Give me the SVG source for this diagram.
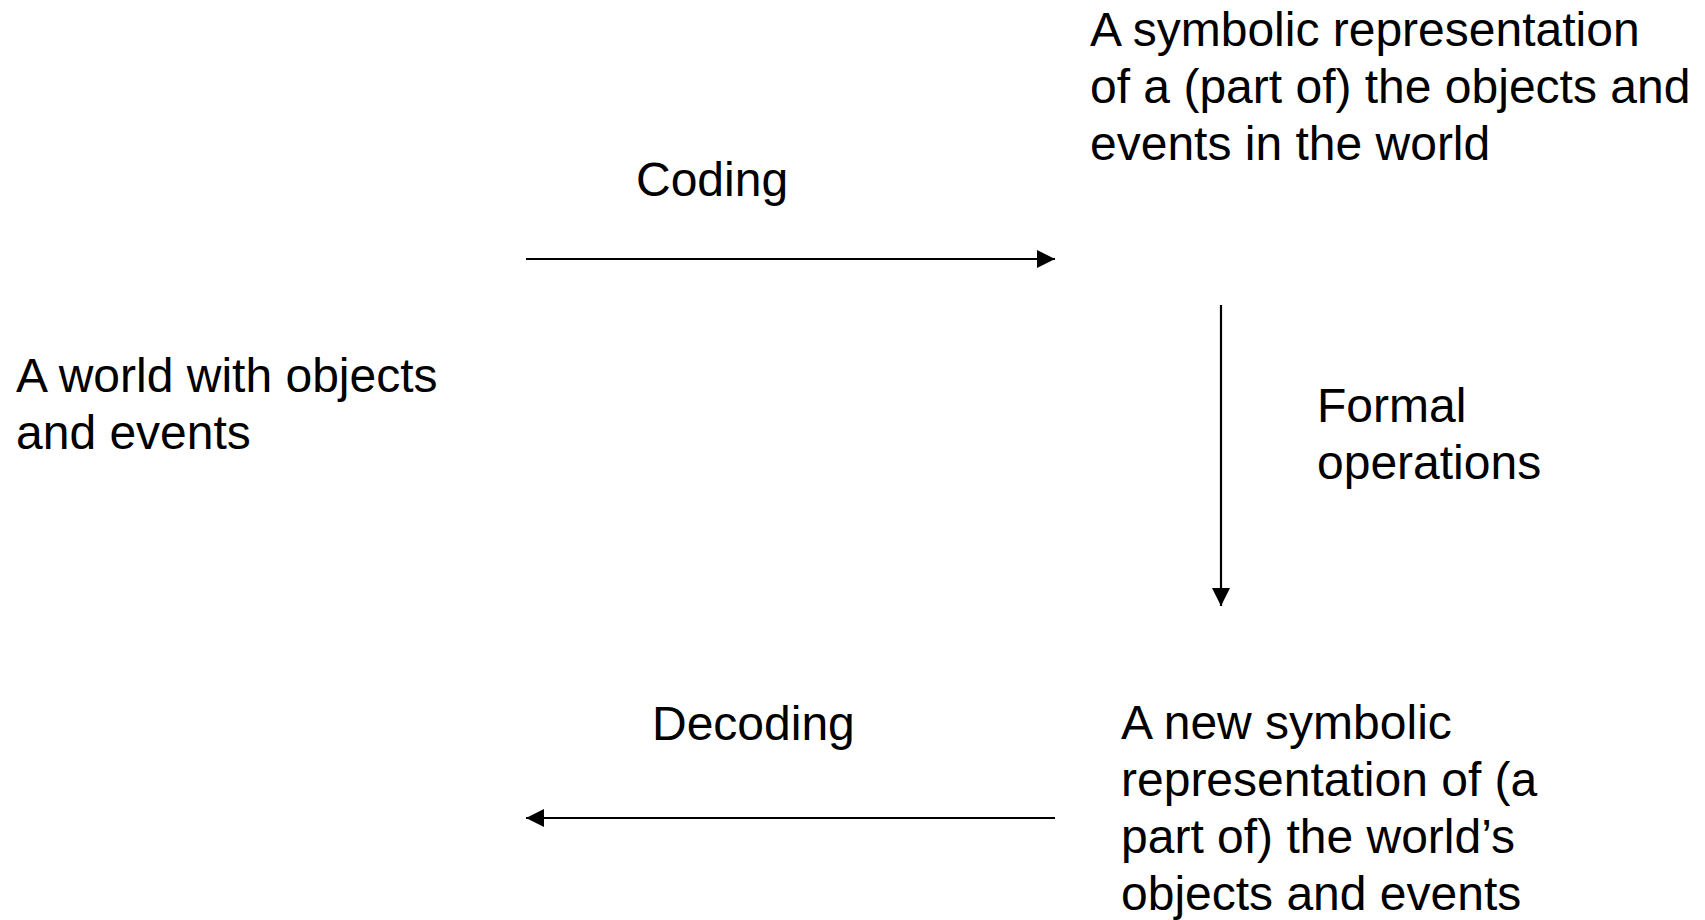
<svg xmlns="http://www.w3.org/2000/svg" width="1705" height="920" viewBox="0 0 1705 920">
  <style>
    text { font-family: "Liberation Sans", Arial, sans-serif; font-size: 48px; fill: #000; }
    .conn { stroke: #000; stroke-width: 2.2; fill: none; }
  </style>
  <defs>
    <marker id="arrow" viewBox="0 0 10 10" refX="10" refY="5" markerWidth="18" markerHeight="18" markerUnits="userSpaceOnUse" orient="auto">
      <path d="M0,0 L10,5 L0,10 z" fill="#000"/>
    </marker>
  </defs>
  <rect width="1705" height="920" fill="#fff"/>
  <g id="connectors">
    <line id="coding-arrow" class="conn" x1="526" y1="259" x2="1055" y2="259" marker-end="url(#arrow)"/>
    <line id="formal-arrow" class="conn" x1="1221" y1="305" x2="1221" y2="606" marker-end="url(#arrow)"/>
    <line id="decoding-arrow" class="conn" x1="1055" y1="818" x2="526" y2="818" marker-end="url(#arrow)"/>
  </g>
  <g id="world">
    <text x="16" y="392">A world with objects</text>
    <text x="16" y="449">and events</text>
  </g>
  <g id="symbolic">
    <text x="1090" y="46">A symbolic representation</text>
    <text x="1090" y="103">of a (part of) the objects and</text>
    <text x="1090" y="160">events in the world</text>
  </g>
  <g id="new-symbolic">
    <text x="1121" y="739">A new symbolic</text>
    <text x="1121" y="796">representation of (a</text>
    <text x="1121" y="853">part of) the world’s</text>
    <text x="1121" y="910">objects and events</text>
  </g>
  <g id="label-coding">
    <text x="636" y="196">Coding</text>
  </g>
  <g id="label-formal">
    <text x="1317" y="422">Formal</text>
    <text x="1317" y="479">operations</text>
  </g>
  <g id="label-decoding">
    <text x="652" y="740">Decoding</text>
  </g>
</svg>
